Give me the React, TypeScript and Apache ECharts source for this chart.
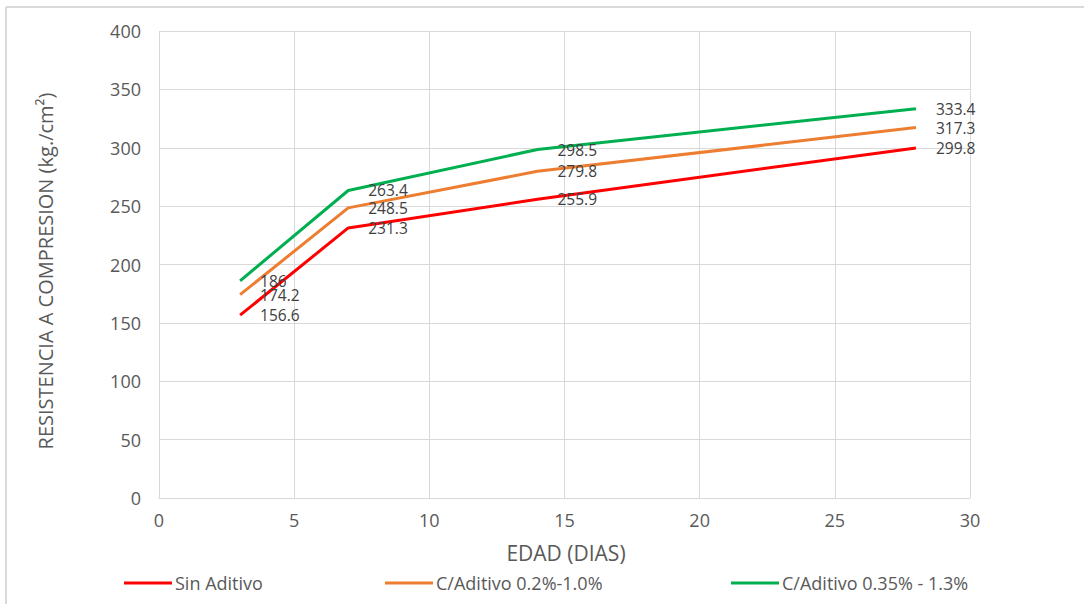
import React, { useEffect, useRef } from "react";
import * as echarts from "echarts";

const days = [3, 7, 14, 28];
const sinAditivo = [156.6, 231.3, 255.9, 299.8];
const aditivo02 = [174.2, 248.5, 279.8, 317.3];
const aditivo035 = [186, 263.4, 298.5, 333.4];
const seriesNames = ["Sin Aditivo", "C/Aditivo 0.2%-1.0%", "C/Aditivo 0.35% - 1.3%"];
const seriesColors = ["#ff0000", "#ed7d31", "#00b050"];
const xTitle = "EDAD (DIAS)";
const yTitle = "RESISTENCIA A COMPRESION (kg./cm²)";

const FONT = "'Open Sans', sans-serif";

export default function App() {
  const ref = useRef<HTMLDivElement>(null);
  useEffect(() => {
    const chart = echarts.init(ref.current!, null, { renderer: "svg" });
    const all = [sinAditivo, aditivo02, aditivo035];
    const legendLefts = [119, 380, 726];
    chart.setOption({
      animation: false,
      backgroundColor: "#ffffff",
      textStyle: { fontFamily: FONT },
      grid: { left: 159, right: 114, top: 31, bottom: 106 },
      xAxis: {
        type: "value",
        min: 0,
        max: 30,
        interval: 5,
        axisLine: { show: true, lineStyle: { color: "#d9d9d9", width: 1 } },
        axisTick: { show: false },
        splitLine: { show: true, lineStyle: { color: "#d9d9d9", width: 1 } },
        axisLabel: { color: "#595959", fontSize: 18, margin: 13, fontFamily: FONT },
      },
      yAxis: {
        type: "value",
        min: 0,
        max: 400,
        interval: 50,
        axisLine: { show: false },
        axisTick: { show: false },
        splitLine: { show: true, lineStyle: { color: "#d9d9d9", width: 1 } },
        axisLabel: { color: "#595959", fontSize: 18, margin: 18, fontFamily: FONT },
      },
      legend: seriesNames.map((n, i) => ({
        data: [n],
        left: legendLefts[i],
        top: 569,
        icon: "rect",
        itemWidth: 48,
        itemHeight: 3,
        itemGap: 4,
        textStyle: { color: "#595959", fontSize: 18, fontFamily: FONT, padding: [0, 0, 0, -2] },
      })),
      series: all.map((vals, i) => ({
        name: seriesNames[i],
        type: "line",
        data: days.map((d, j) => [d, vals[j]]),
        symbol: "circle",
        symbolSize: 0.01,
        showSymbol: true,
        lineStyle: { color: seriesColors[i], width: 3 },
        itemStyle: { color: seriesColors[i] },
        label: {
          show: true,
          position: "right",
          distance: 20,
          color: "#404040",
          fontSize: 15.5,
          fontFamily: FONT,
          formatter: (p: any) => String(p.value[1]),
        },
      })),
      graphic: [
        { type: "line", shape: { x1: 6, y1: 7, x2: 1084, y2: 7 }, style: { stroke: "#d9d9d9", lineWidth: 2 } },
        { type: "line", shape: { x1: 6, y1: 7, x2: 6, y2: 604 }, style: { stroke: "#d9d9d9", lineWidth: 2 } },
        {
          type: "text",
          x: 566,
          y: 553,
          style: { text: xTitle, align: "center", verticalAlign: "middle", fill: "#595959", font: `21px ${FONT}` },
        },
        {
          type: "text",
          x: 45,
          y: 271,
          rotation: Math.PI / 2,
          style: { text: yTitle, align: "center", verticalAlign: "middle", fill: "#595959", font: `20px ${FONT}` },
        },
      ],
    });
    return () => chart.dispose();
  }, []);
  return <div ref={ref} style={{ position: "absolute", left: 0, top: 0, width: 1084, height: 604 }} />;
}
